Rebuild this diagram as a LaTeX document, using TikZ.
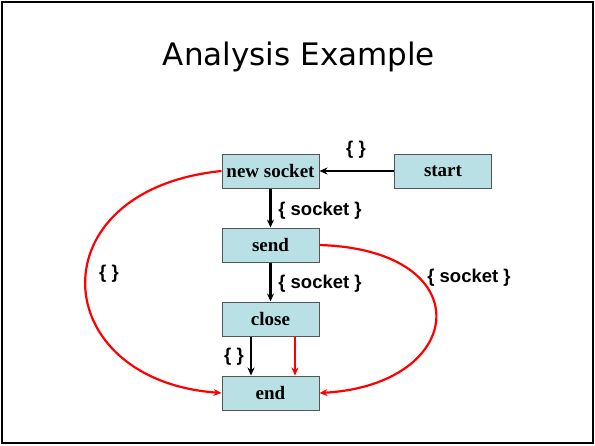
\documentclass[tikz,border=0pt]{standalone}
\usepackage{fontspec}
\setmainfont{Liberation Serif}
\setsansfont{Liberation Sans}
\newfontfamily\titlefont{DejaVu Sans}
\usetikzlibrary{arrows.meta}
\definecolor{boxfill}{HTML}{B9E0E4}
\definecolor{boxline}{HTML}{555555}
\definecolor{redline}{HTML}{FF0000}
\begin{document}
\begin{tikzpicture}[x=1pt,y=-1pt,
  box/.style={draw=boxline, fill=boxfill, line width=1pt, minimum width=97pt, minimum height=34pt, inner sep=0pt, font=\rmfamily\bfseries\fontsize{19}{21}\selectfont},
  lbl/.style={font=\sffamily\bfseries\fontsize{18.5}{20}\selectfont, inner sep=0pt},
  blk/.style={draw=black, line width=2.2pt, -{Stealth[length=8pt,width=7pt]}},
  rd/.style={draw=redline, line width=2.2pt, -{Stealth[length=8pt,width=7pt]}}]
\useasboundingbox (0,0) rectangle (595,445);
\draw[line width=2pt] (2,2) rectangle (593,443);
\node[font=\titlefont\fontsize{31}{34}\selectfont, inner sep=0pt] (title) at (299,57) {Analysis Example};
\node[box] (ns) at (270.5,171) {new socket};
\node[box] (st) at (443,171) {start};
\node[box] (sd) at (270.5,245) {send};
\node[box] (cl) at (270.5,319) {close};
\node[box] (en) at (270.5,393) {end};
\draw[blk] (st.west) -- (ns.east);
\draw[blk] (ns.south) -- (sd.north);
\draw[blk] (sd.south) -- (cl.north);
\draw[blk] ([xshift=-19.5pt]cl.south) -- ([xshift=-19.5pt]en.north);
\draw[rd] ([xshift=24.5pt]cl.south) -- ([xshift=24.5pt]en.north);
\draw[rd] (ns.west) .. controls (35,190) and (46,380) .. (en.west);
\draw[rd] (sd.east) .. controls (482,250) and (467,385) .. (en.east);
\node[lbl] (l1) at (356,150) {\{ \}};
\node[lbl] (l2) at (320,211) {\{ socket \}};
\node[lbl] (l3) at (320,284) {\{ socket \}};
\node[lbl] (l4) at (234,357) {\{ \}};
\node[lbl] (l5) at (109,274) {\{ \}};
\node[lbl] (l6) at (469,278) {\{ socket \}};
\end{tikzpicture}
\end{document}
